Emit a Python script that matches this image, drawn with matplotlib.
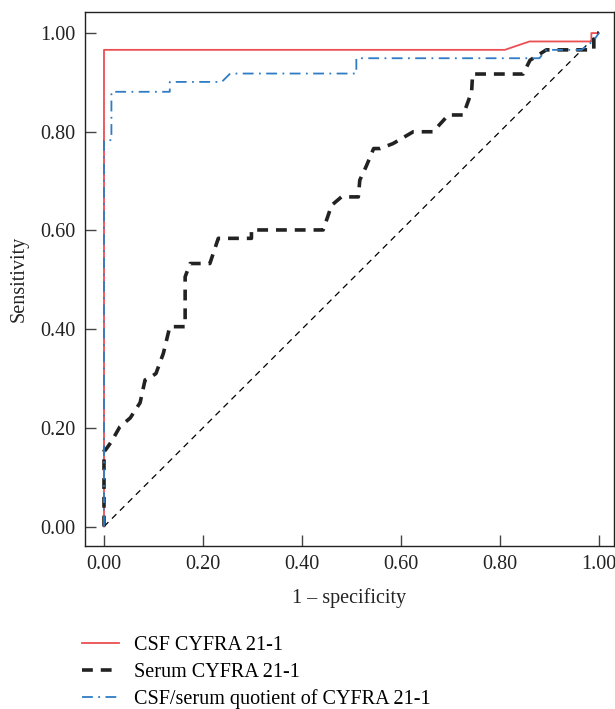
import matplotlib
matplotlib.use("Agg")
import matplotlib.pyplot as plt

plt.rcParams['font.family'] = ['Liberation Serif', 'DejaVu Serif']

# Data
csf_fpr = [0.0, 0.0, 0.81, 0.86, 0.985, 0.985, 1.0]
csf_tpr = [0.0, 0.966, 0.966, 0.983, 0.983, 1.0, 1.0]

serum_fpr = [0.0, 0.0, 0.003, 0.015, 0.032, 0.053, 0.073, 0.083, 0.096, 0.105, 0.12, 0.133,
             0.164, 0.164, 0.174, 0.214, 0.231, 0.298, 0.298, 0.443, 0.46, 0.48, 0.514,
             0.517, 0.53, 0.545, 0.558, 0.584, 0.625, 0.665, 0.696, 0.726, 0.743, 0.745,
             0.847, 0.861, 0.894, 0.99, 0.99, 1.0]
serum_tpr = [0.0, 0.153, 0.155, 0.172, 0.202, 0.22, 0.251, 0.297, 0.304, 0.31, 0.351, 0.405,
             0.405, 0.506, 0.533, 0.533, 0.584, 0.584, 0.601, 0.601, 0.651, 0.668, 0.668,
             0.702, 0.73, 0.766, 0.766, 0.776, 0.8, 0.8, 0.834, 0.834, 0.881, 0.917,
             0.917, 0.945, 0.966, 0.966, 1.0, 1.0]

quot_fpr = [0.0, 0.0, 0.015, 0.015, 0.133, 0.133, 0.238, 0.255, 0.51, 0.51, 0.88, 0.894,
            0.965, 0.99, 1.0]
quot_tpr = [0.0, 0.783, 0.783, 0.881, 0.881, 0.901, 0.901, 0.918, 0.918, 0.949, 0.949, 0.966,
            0.966, 0.985, 1.0]

ref_line = [0.0, 1.0]

xticks = [0.0, 0.2, 0.4, 0.6, 0.8, 1.0]
yticks = [0.0, 0.2, 0.4, 0.6, 0.8, 1.0]
labels = ["CSF CYFRA 21-1", "Serum CYFRA 21-1", "CSF/serum quotient of CYFRA 21-1"]

FS = 14.5

fig = plt.figure(figsize=(6.15, 7.09), dpi=100)
ax = fig.add_axes([0.1382, 0.2299, 0.8598, 0.7531])

ax.plot(ref_line, ref_line, color='black', lw=0.9, dashes=(5, 4))
l1, = ax.plot(csf_fpr, csf_tpr, color='#ec4f52', lw=1.3, label=labels[0])
l2, = ax.plot(serum_fpr, serum_tpr, color='#222222', lw=2.6, dashes=(3, 2.2), label=labels[1])
l3, = ax.plot(quot_fpr, quot_tpr, color='#2f7cc4', lw=1.3, dashes=(6, 3, 1, 3), label=labels[2])

ax.set_xlim(-0.0384, 1.0303)
ax.set_ylim(-0.0395, 1.0426)
ax.set_xticks(xticks)
ax.set_yticks(yticks)
ax.set_xticklabels([f"{v:.2f}" for v in xticks])
ax.set_yticklabels([f"{v:.2f}" for v in yticks])
ax.tick_params(direction='in', length=8, width=1.0, color='#444444', labelsize=FS,
               labelcolor='#222222')
ax.tick_params(axis='x', pad=6.5)
ax.tick_params(axis='y', pad=7)
for s in ax.spines.values():
    s.set_color('#222222')
    s.set_linewidth(1.0)

ax.set_xlabel("1 \u2013 specificity", fontsize=FS, color='#222222', labelpad=10)
ax.set_ylabel("Sensitivity", fontsize=FS, color='#222222', labelpad=8)

fig.legend(handles=[l1, l2, l3], loc='upper left', bbox_to_anchor=(0.134, 0.1025),
           frameon=False, fontsize=FS, handlelength=1.8, handletextpad=0.75,
           labelspacing=0.36, borderpad=0, borderaxespad=0)

fig.savefig("out.png", dpi=100)
